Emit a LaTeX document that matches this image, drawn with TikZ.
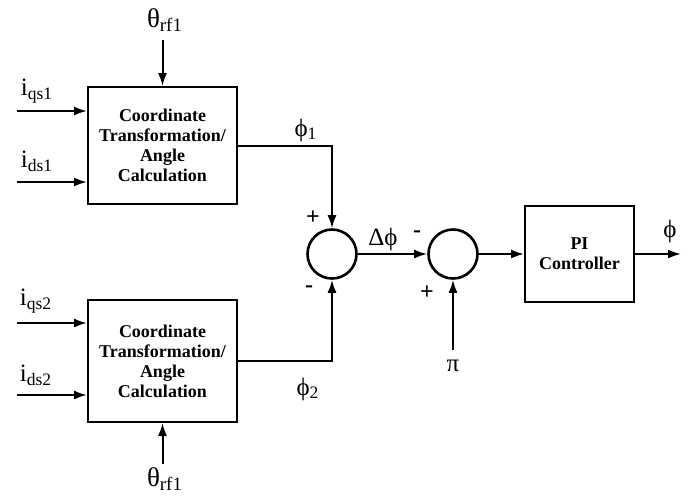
\documentclass[tikz,border=0pt]{standalone}
\usepackage{fontspec}
\setmainfont{Liberation Serif}
\usetikzlibrary{arrows.meta}

\begin{document}
\begin{tikzpicture}[x=0.5pt, y=-0.5pt, line width=1pt,
  every node/.style={font=\fontsize{12.5}{14}\selectfont},
  block/.style={draw, line width=1pt, align=center, inner sep=0pt, minimum width=74.5pt,
    font=\fontsize{9}{10}\selectfont\bfseries},
  junction/.style={draw, circle, line width=1.3pt, minimum size=24.5pt, inner sep=0pt},
  sig/.style={-{Latex[length=6.5pt,width=4.5pt]}},
  sign/.style={font=\fontsize{12}{14}\selectfont\bfseries}]
  \useasboundingbox (0,0) rectangle (687,495);
  % upper transformation block and its inputs
  \node[block, minimum height=58.5pt] (ct1) at (162.5,145.5) {Coordinate\\Transformation/\\Angle\\Calculation};
  \node[font=\fontsize{13.5}{15}\selectfont] (th1) at (165,20) {θ\textsubscript{rf1}};
  \coordinate (th1in) at (162.5,40);
  \coordinate (qs1in) at (17,111);
  \coordinate (ds1in) at (17,182);
  \node (iqs1) at (37,91) {i\textsubscript{qs1}};
  \node (ids1) at (37,161) {i\textsubscript{ds1}};
  \draw[sig] (th1in) -- (ct1.north);
  \draw[sig] (qs1in) -- (qs1in -| ct1.west);
  \draw[sig] (ds1in) -- (ds1in -| ct1.west);
  % lower transformation block and its inputs
  \node[block, minimum height=61pt] (ct2) at (162.5,361) {Coordinate\\Transformation/\\Angle\\Calculation};
  \node[font=\fontsize{13.5}{15}\selectfont] (th2) at (165,479) {θ\textsubscript{rf1}};
  \coordinate (th2in) at (162.5,464);
  \coordinate (qs2in) at (17,323);
  \coordinate (ds2in) at (17,395);
  \node (iqs2) at (36,301) {i\textsubscript{qs2}};
  \node (ids2) at (36,375) {i\textsubscript{ds2}};
  \draw[sig] (th2in) -- (ct2.south);
  \draw[sig] (qs2in) -- (qs2in -| ct2.west);
  \draw[sig] (ds2in) -- (ds2in -| ct2.west);
  % summing junctions
  \node[junction] (sum1) at (332,254) {};
  \node[junction] (sum2) at (453,254) {};
  \draw[sig] (ct1.east) -| (sum1.north);
  \draw[sig] (ct2.east) -| (sum1.south);
  \node (phi1) at (306,130) {ϕ\textsubscript{1}};
  \node (phi2) at (308,389) {ϕ\textsubscript{2}};
  \node[sign] (p1) at (313,218) {+};
  \node[sign] (m1) at (309,289) {-};
  \draw[sig] (sum1.east) -- (sum2.west);
  \node (dphi) at (383,239) {Δϕ};
  \node[sign] (m2) at (417,234) {-};
  \node[sign] (p2) at (427,293) {+};
  \coordinate (piin) at (453,350);
  \node (pi) at (453,366) {π};
  \draw[sig] (piin) -- (sum2.south);
  % PI controller
  \node[block, minimum width=54.5pt, minimum height=48pt] (pic) at (579.5,254) {PI\\Controller};
  \coordinate (out) at (681,254);
  \node (phiout) at (670,231) {ϕ};
  \draw[sig] (sum2.east) -- (pic.west);
  \draw[sig] (pic.east) -- (out);
\end{tikzpicture}
\end{document}
